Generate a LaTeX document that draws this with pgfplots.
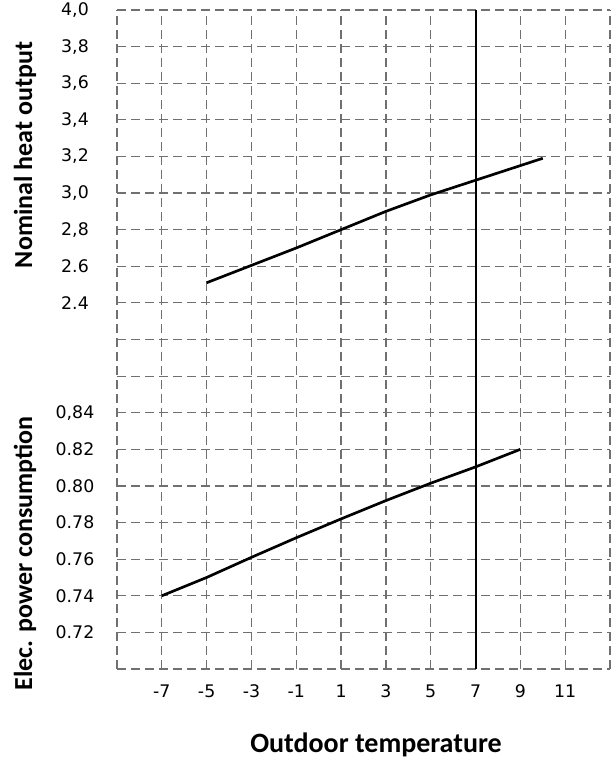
\documentclass[border=0pt]{standalone}
\usepackage{fontspec}
\setmainfont{Carlito}
\newfontfamily\tickfont{DejaVu Sans}
\usepackage{pgfplots}
\pgfplotsset{compat=1.18}
\usepackage{pgfplotstable}
\pgfplotstableread{
x v
-5 2.51
-3 2.605
-1 2.70
1 2.80
3 2.90
5 2.99
7 3.07
9 3.15
10 3.19
}\heat
\pgfplotstableread{
x v
-7 0.740
-5 0.750
-3 0.761
-1 0.7717
1 0.782
3 0.792
5 0.8015
7 0.8104
9 0.820
}\power
\definecolor{gridgray}{HTML}{707070}
\begin{document}
\begin{tikzpicture}[x=1pt,y=1pt]
\useasboundingbox (-87.75,-72) rectangle (371.25,501.75);
\begin{axis}[at={(0,0)}, anchor=south west, scale only axis,
  width=369.75pt, height=494.25pt,
  xmin=-9, xmax=13, ymin=0, ymax=18,
  axis line style={draw=none},
  xtick={-9,-7,...,13}, xticklabels={,-7,-5,-3,-1,1,3,5,7,9,11,},
  ytick={0,...,18},
  yticklabels={,0.72,0.74,0.76,0.78,0.80,0.82,{0,84},,,2.4,2.6,{2,8},{3,0},{3,2},{3,4},{3,6},{3,8},{4,0}},
  major tick length=0pt,
  grid=major,
  grid style={dash pattern=on 6.75pt off 3.75pt, line width=0.9pt, color=gridgray},
  xticklabel style={anchor=center, yshift=-17pt, font=\tickfont\fontsize{13}{15}\selectfont},
  yticklabel style={anchor=center, xshift=-31.5pt, font=\tickfont\fontsize{13}{15}\selectfont},
  clip=false,
]
\addplot[black, line width=2pt, no markers] table[x=x, y expr={10+(\thisrow{v}-2.4)/0.2}] {\heat};
\addplot[black, line width=2pt, no markers] table[x=x, y expr={2+(\thisrow{v}-0.74)/0.02}] {\power};
\addplot[black, line width=1.5pt, no markers] coordinates {(7,0) (7,18)};
\end{axis}
\node[rotate=90, font=\bfseries\fontsize{19.5}{22}\selectfont] at (-69,385.5) {Nominal heat output};
\node[rotate=90, font=\bfseries\fontsize{19.5}{22}\selectfont] at (-69,86.6) {Elec. power consumption};
\node[font=\bfseries\fontsize{21}{24}\selectfont] at (194.25,-57) {Outdoor temperature};
\end{tikzpicture}
\end{document}
